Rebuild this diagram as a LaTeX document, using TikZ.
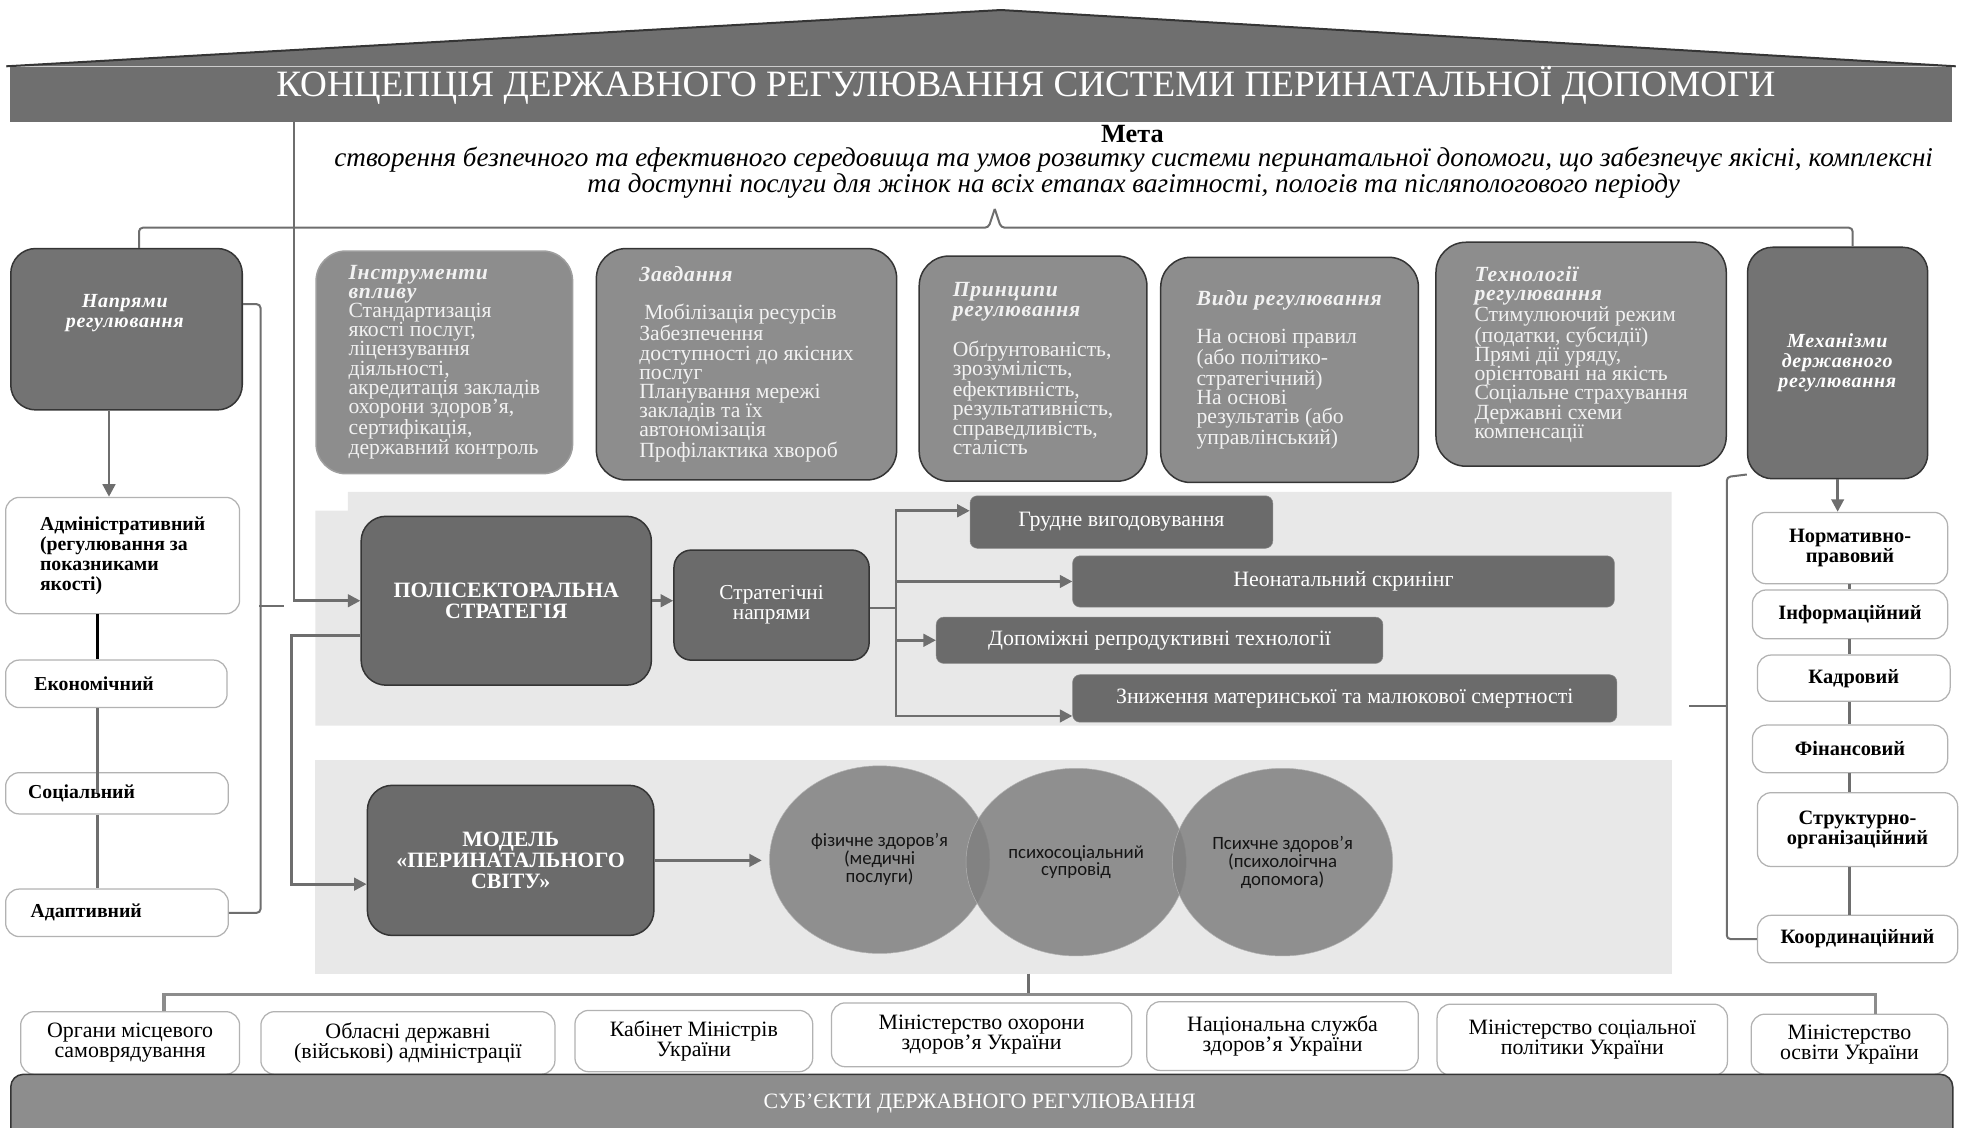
\documentclass[tikz,border=0pt]{standalone}
\usepackage{fontspec}
\setmainfont{Liberation Serif}
\newfontfamily\spacedserif[LetterSpace=3.5]{Liberation Serif}
\newfontfamily\lobefont{Carlito}
\usetikzlibrary{arrows.meta, shapes.geometric}

\definecolor{roofgrey}{HTML}{6F6F6F}
\definecolor{darkgrey}{HTML}{6B6B6B}
\definecolor{headgrey}{HTML}{737373}
\definecolor{midgrey}{HTML}{8D8D8D}
\definecolor{panelgrey}{HTML}{E8E8E8}
\definecolor{edgegrey}{HTML}{353535}
\definecolor{linegrey}{HTML}{6E6E6E}
\definecolor{inkgrey}{HTML}{141414}
\definecolor{paletext}{HTML}{F2F2F2}

\newcommand{\setfs}[2]{\fontsize{#1}{#2}\selectfont}
\newcommand{\boxhead}[1]{{\spacedserif\textbf{\textit{#1}}}}

\tikzset{
  darkbox/.style={draw=edgegrey, fill=darkgrey, line width=1.2pt, rounded corners=20pt,
    anchor=north west, inner sep=0pt, text=white, align=center},
  greybox/.style={draw=edgegrey, fill=midgrey, line width=1.2pt, rounded corners=24pt,
    anchor=north west, inner sep=0pt, text=paletext, align=left, font=\setfs{17.3}{15.3}},
  whitebox/.style={draw=black!30, fill=white, line width=1pt, rounded corners=11pt,
    anchor=north west, inner sep=0pt, align=center, font=\setfs{17.5}{16}},
  sidebox/.style={whitebox, font=\bfseries\setfs{16.3}{16}},
  stratbox/.style={fill=darkgrey, draw=darkgrey!80!white, rounded corners=6pt,
    anchor=north west, inner sep=0pt, text=white, font=\setfs{17.5}{17}},
  lobe/.style={ellipse, fill=black!50, fill opacity=0.85, text opacity=1, draw=black!30,
    inner sep=0pt, text=inkgrey, align=center, font=\lobefont\setfs{15}{12.5}},
  lnk/.style={draw=linegrey, line width=2.2pt},
  arr/.style={lnk, -{Triangle[length=10pt,width=10pt]}},
}

\begin{document}
\begin{tikzpicture}[x=1pt, y=-1pt]
\useasboundingbox (0,0) rectangle (1568,901);

% Roof and title bar
\fill[roofgrey] (5,53) -- (800,8) -- (1563,53) -- cycle;
\draw[edgegrey, line width=1.6pt] (5,53) -- (800,8) -- (1563,53);
\node[anchor=north west, fill=roofgrey, minimum width=1552pt, minimum height=44pt,
  inner sep=0pt] (titlebar) at (8,53) {};
\node[text=white, font=\setfs{29.7}{29.7}] (titletext) at (820,68)
  {КОНЦЕПЦІЯ ДЕРЖАВНОГО РЕГУЛЮВАННЯ СИСТЕМИ ПЕРИНАТАЛЬНОЇ ДОПОМОГИ};

% Goal
\node[font=\bfseries\setfs{21}{21}] (goalhead) at (905,107) {Мета};
\node[font=\itshape\setfs{21.7}{19.5}, align=center] (goaltext) at (906,138)
  {створення безпечного та ефективного середовища та умов розвитку системи перинатальної допомоги, що забезпечує якісні, комплексні\\
   та доступні послуги для жінок на всіх етапах вагітності, пологів та післяпологового періоду};
\coordinate (goaltip) at (795,167);

% Light panels behind the strategy and the model
\fill[panelgrey] (278,393) -| (1336,580) -| (252,408) -| cycle;
\fill[panelgrey] (252,607) rectangle (1336,778);
\coordinate (panelfoot) at (822,778);
\coordinate (subjbus) at (822,795);

% Top row of boxes
\node[darkbox, fill=headgrey, minimum width=185pt, minimum height=129pt] (napryamy) at (8,198) {};
\node[text=white, align=center, font=\setfs{16}{16}] (napryamytext) at (100,250)
  {\boxhead{Напрями}\\ \boxhead{регулювання}};
\node[greybox, draw=midgrey!85!white, minimum width=205pt, minimum height=178pt] (instrumenty) at (252,200)
  {\boxhead{Інструменти}\\ \boxhead{впливу}\\ Стандартизація\\ якості послуг,\\ ліцензування\\
   діяльності,\\ акредитація закладів\\ охорони здоров’я,\\ сертифікація,\\ державний контроль};
\node[greybox, minimum width=240pt, minimum height=185pt] (zavdannia) at (476,198)
  {\boxhead{Завдання}\\[15.3pt] \hspace{4pt}Мобілізація ресурсів\\ Забезпечення\\ доступності до якісних\\ послуг\\
   Планування мережі\\ закладів та їх\\ автономізація\\ Профілактика хвороб};
\node[greybox, minimum width=182pt, minimum height=180pt] (pryntsypy) at (734,204)
  {\boxhead{Принципи}\\ \boxhead{регулювання}\\[15.3pt] Обґрунтованість,\\ зрозумілість,\\ ефективність,\\
   результативність,\\ справедливість,\\ сталість};
\node[greybox, minimum width=206pt, minimum height=180pt] (vydy) at (927,205)
  {\boxhead{Види регулювання}\\[15.3pt] На основі правил\\ (або політико-\\ стратегічний)\\ На основі\\
   результатів (або\\ управлінський)};
\node[greybox, minimum width=232pt, minimum height=179pt] (tekhnolohii) at (1147,193)
  {\boxhead{Технології}\\ \boxhead{регулювання}\\ Стимулюючий режим\\ (податки, субсидії)\\ Прямі дії уряду,\\
   орієнтовані на якість\\ Соціальне страхування\\ Державні схеми\\ компенсації};
\node[darkbox, fill=headgrey, minimum width=144pt, minimum height=185pt,
  font=\setfs{16}{16}] (mekhanizmy) at (1396,197)
  {\boxhead{Механізми}\\ \boxhead{державного}\\ \boxhead{регулювання}};

% Brace under the goal
\draw[lnk, line width=1.6pt, rounded corners=3pt] (goaltip) -- ++(-5,15) -| ([xshift=10pt]napryamy.north);
\draw[lnk, line width=1.6pt, rounded corners=3pt] (goaltip) -- ++(5,15) -| ([xshift=12pt]mekhanizmy.north);

% Left column
\node[sidebox, align=left, minimum width=187pt, minimum height=93pt, font=\bfseries\setfs{15.8}{16}] (admin) at (4,397)
  {Адміністративний\\ (регулювання за\\ показниками\\ якості)};
\node[sidebox, align=left, text width=131pt, minimum width=177pt, minimum height=38pt, font=\bfseries\setfs{15.8}{16}] (econ) at (4,527) {Економічний};
\node[sidebox, align=left, text width=142pt, minimum width=178pt, minimum height=33pt, font=\bfseries\setfs{15.8}{16}] (social) at (4,617) {Соціальний};
\node[sidebox, align=left, text width=138pt, minimum width=178pt, minimum height=38pt, font=\bfseries\setfs{15.8}{16}] (adapt) at (4,710) {Адаптивний};
\coordinate (leftspine) at (78,0);
\draw[arr] ([xshift=-14pt]napryamy.south) -- ([xshift=-14pt]napryamy.south |- admin.north);
\draw[black, line width=2.2pt] (leftspine |- admin.south) -- (leftspine |- econ.north);
\draw[lnk] (leftspine |- econ.south) -- (leftspine |- social.center);
\draw[lnk] (leftspine |- social.south) -- (leftspine |- adapt.north);
\coordinate (lefttip) at (207,484);
\draw[lnk, line width=1.6pt, rounded corners=3pt] ([yshift=20pt]napryamy.east) -- ++(14,0) |- (adapt.east);
\draw[lnk, line width=1.6pt] (lefttip) -- ++(20,0);

% Right column
\node[sidebox, minimum width=156pt, minimum height=57pt] (normat) at (1400,409) {Нормативно-\\правовий};
\node[sidebox, minimum width=156pt, minimum height=39pt] (inform) at (1400,471) {Інформаційний};
\node[sidebox, minimum width=154pt, minimum height=37pt] (kadr) at (1404,523) {Кадровий};
\node[sidebox, minimum width=156pt, minimum height=38pt] (finans) at (1400,579) {Фінансовий};
\node[sidebox, minimum width=160pt, minimum height=59pt] (struktur) at (1404,633) {Структурно-\\організаційний};
\node[sidebox, minimum width=160pt, minimum height=38pt] (koord) at (1404,731) {Координаційний};
\coordinate (rightspine) at (1478,0);
\draw[arr] (mekhanizmy.south) -- (mekhanizmy.south |- normat.north);
\foreach \a/\b in {normat/inform, inform/kadr, kadr/finans, finans/struktur, struktur/koord}
  \draw[lnk] (rightspine |- \a.south) -- (rightspine |- \b.north);
\coordinate (righttip) at (1380,564);
\draw[lnk, line width=1.6pt, rounded corners=3pt] ([yshift=4pt]mekhanizmy.south west) -- ++(-16,2) |- (koord.west);
\draw[lnk, line width=1.6pt] (righttip) -- ++(-30,0);

% Polysectoral strategy
\node[darkbox, minimum width=232pt, minimum height=135pt, font=\bfseries\setfs{17.5}{17}] (polisector) at (288,412)
  {ПОЛІСЕКТОРАЛЬНА\\СТРАТЕГІЯ};
\node[darkbox, rounded corners=14pt, minimum width=156pt, minimum height=88pt, font=\setfs{17}{16}] (stratdir) at (538,439)
  {Стратегічні\\напрями};
\node[stratbox, minimum width=242pt, minimum height=42pt] (grudne) at (775,396) {Грудне вигодовування};
\node[stratbox, minimum width=433pt, minimum height=41pt] (neonat) at (857,444) {Неонатальний скринінг};
\node[stratbox, minimum width=357pt, minimum height=37pt] (dopomizhni) at (748,493) {Допоміжні репродуктивні технології};
\node[stratbox, minimum width=435pt, minimum height=38pt] (znyzhennia) at (857,539) {Зниження материнської та малюкової смертності};
\coordinate (fan) at (716,486);
\draw[arr] ([xshift=227pt]titlebar.south west) |- (polisector.west);
\draw[arr] (polisector.east) -- (polisector.east -| stratdir.west);
\draw[lnk] (stratdir.east |- fan) -- (fan);
\draw[arr] (fan) |- ([yshift=9pt]grudne.west);
\draw[arr] (fan) |- (neonat.west);
\draw[arr] (fan) |- (dopomizhni.west);
\draw[arr] (fan) |- ([yshift=-14pt]znyzhennia.west);

% Perinatal world model
\node[darkbox, minimum width=229pt, minimum height=120pt, font=\bfseries\setfs{17.5}{17}] (model) at (293,627)
  {МОДЕЛЬ\\«ПЕРИНАТАЛЬНОГО\\СВІТУ»};
\node[lobe, minimum width=176pt, minimum height=150pt] (fizychne) at (703,687)
  {фізичне здоров’я\\(медичні\\послуги)};
\node[lobe, minimum width=176pt, minimum height=150pt] (psykhosots) at (860,689)
  {психосоціальний\\супровід};
\node[lobe, minimum width=176pt, minimum height=150pt] (psykhichne) at (1025,689)
  {Психчне здоров’я\\(психолоігчна\\допомога)};
\draw[arr] ([yshift=-28pt]polisector.west) -- ++(-55,0) |- ([yshift=-19pt]model.west);
\draw[arr, shorten >=6pt] (model.east) -- (model.east -| fizychne.west);

% Subjects of regulation
\node[whitebox, minimum width=175pt, minimum height=50pt] (orhany) at (16,808) {Органи місцевого\\самоврядування};
\node[whitebox, minimum width=235pt, minimum height=50pt] (oblasni) at (208,808) {Обласні державні\\(військові) адміністрації};
\node[whitebox, minimum width=190pt, minimum height=49pt] (kabmin) at (459,807) {Кабінет Міністрів\\України};
\node[whitebox, minimum width=240pt, minimum height=51pt] (moz) at (664,801) {Міністерство охорони\\здоров’я України};
\node[whitebox, minimum width=217pt, minimum height=55pt] (nszu) at (916,800) {Національна служба\\здоров’я України};
\node[whitebox, minimum width=232pt, minimum height=57pt] (minsots) at (1148,802) {Міністерство соціальної\\політики України};
\node[whitebox, minimum width=157pt, minimum height=48pt] (mon) at (1399,810) {Міністерство\\освіти України};
\draw[lnk] (panelfoot) -- (subjbus);
\draw[lnk, draw=black!45, line width=2.6pt] ([xshift=27pt]orhany.north) |- (subjbus) -| ([xshift=21pt]mon.north);
\node[anchor=north west, draw=edgegrey, fill=midgrey, line width=1.2pt, rounded corners=10pt,
  minimum width=1552pt, minimum height=60pt, inner sep=0pt] (subjects) at (8,858) {};
\node[text=white, font=\setfs{17.5}{17.5}] (subjectstext) at (783,882) {СУБ’ЄКТИ ДЕРЖАВНОГО РЕГУЛЮВАННЯ};
\end{tikzpicture}
\end{document}
